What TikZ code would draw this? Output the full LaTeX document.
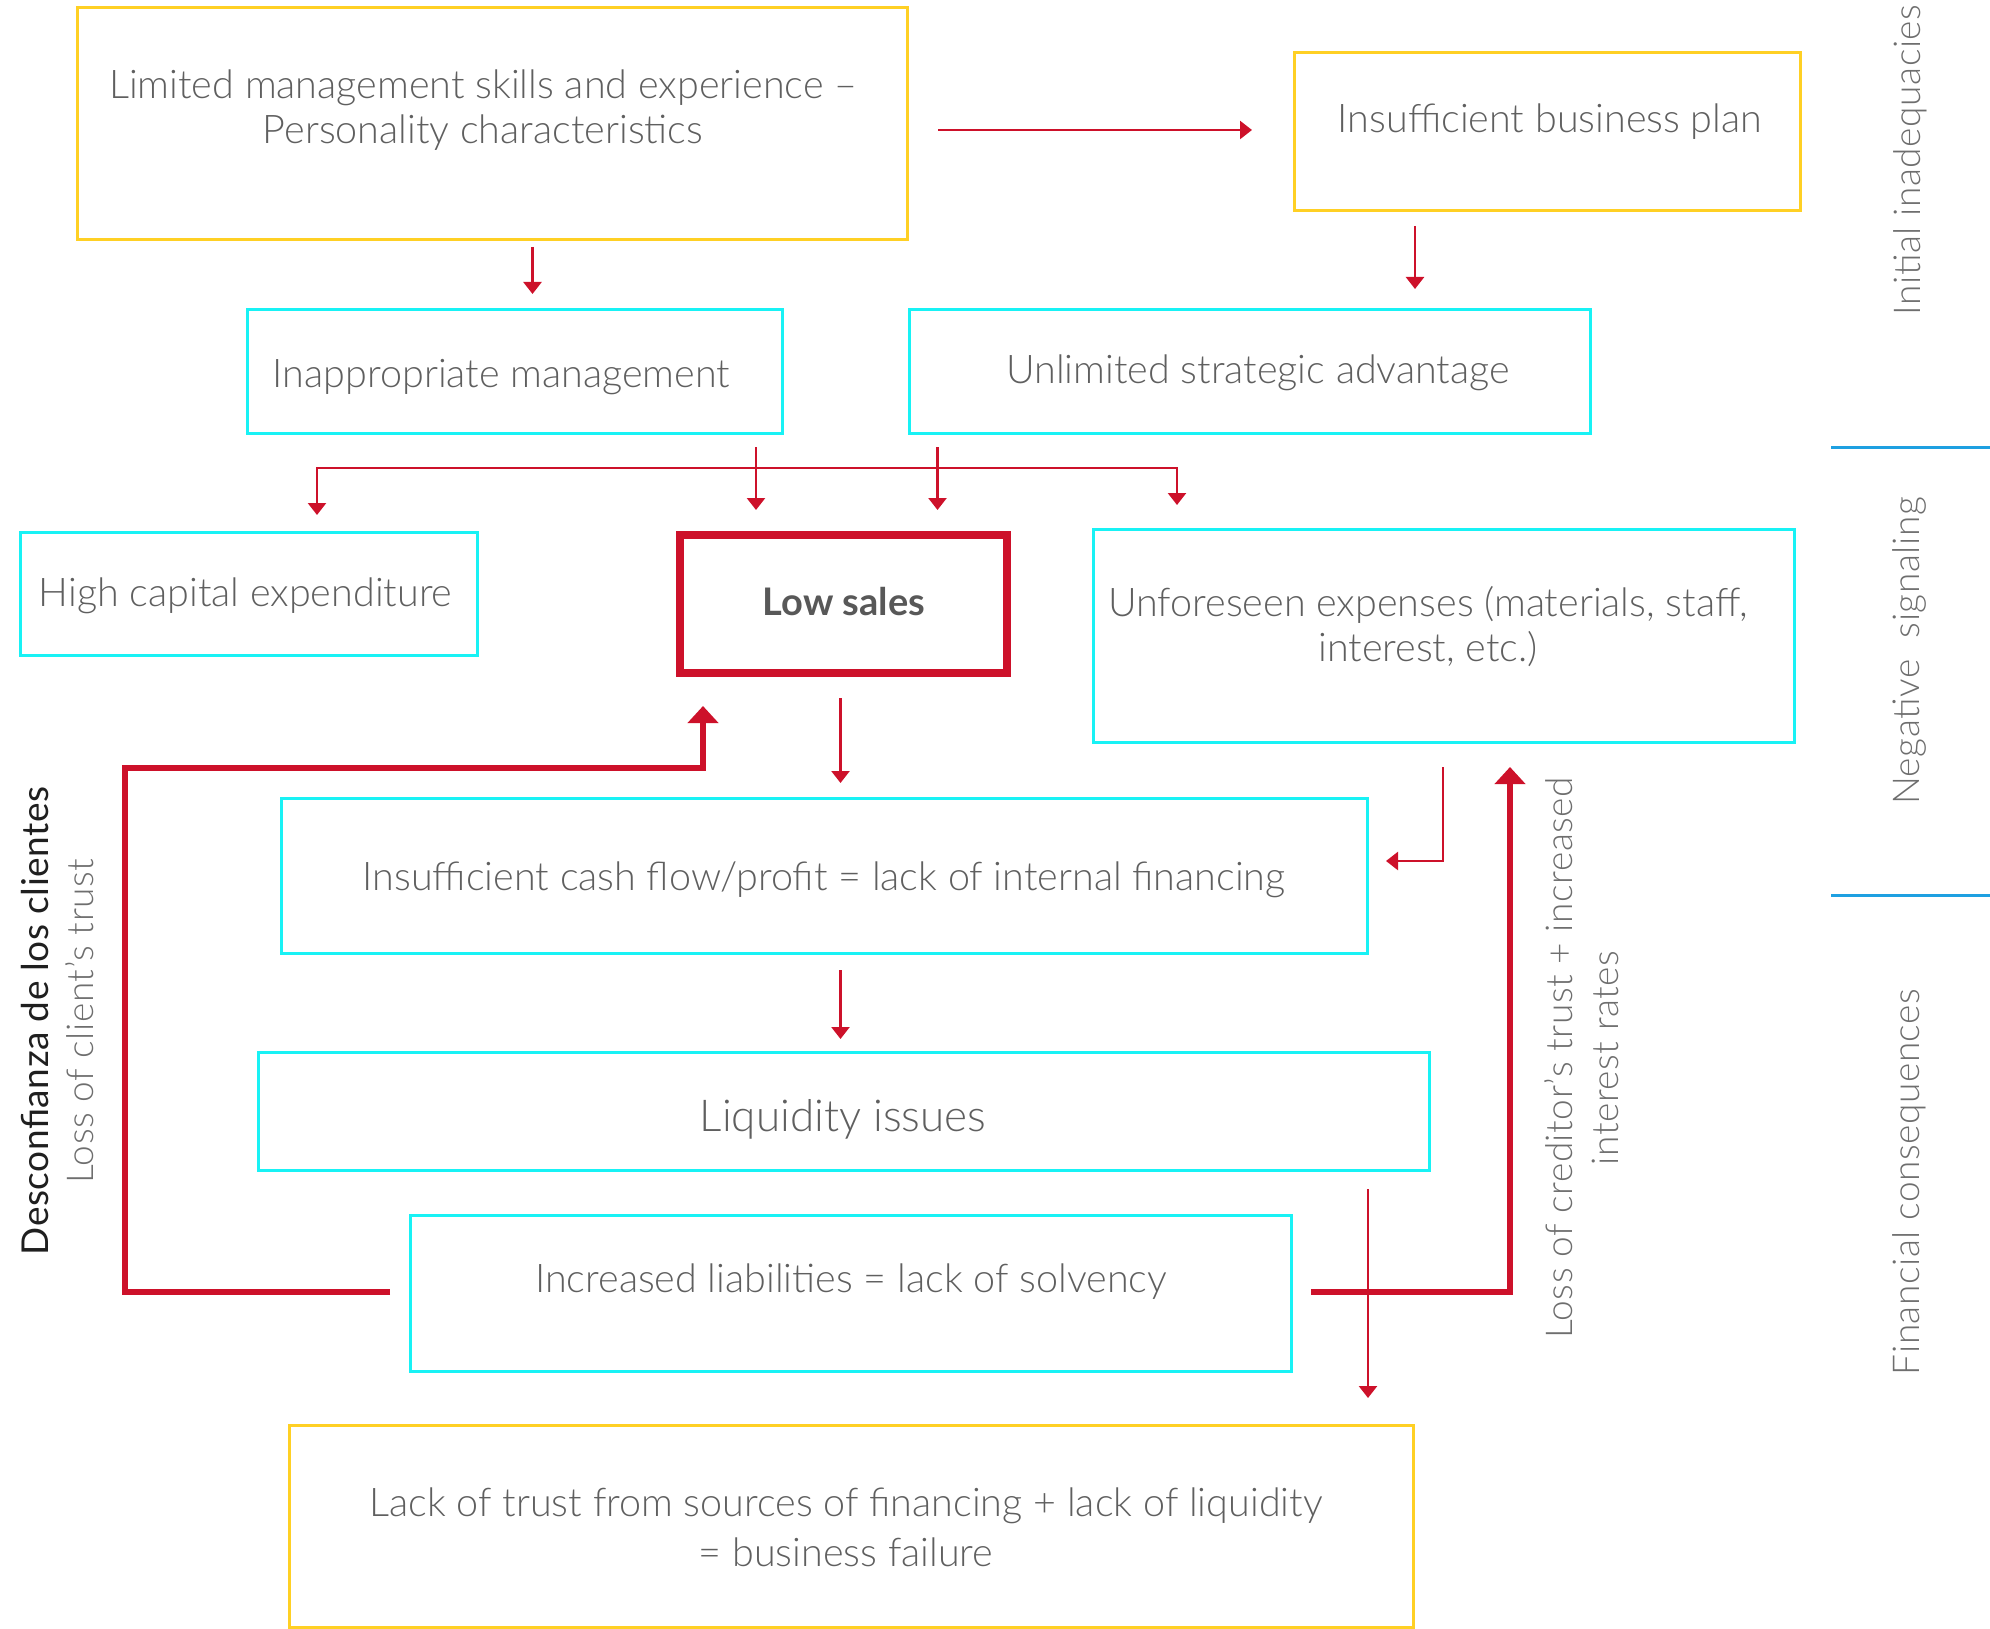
\documentclass[tikz,border=0pt]{standalone}
\usepackage{fontspec}
\setmainfont{Lato Light}[BoldFont={Lato Bold}]
\newfontfamily\sidefont[LetterSpace=1.5]{Lato Light}
\newfontfamily\sideregular[LetterSpace=1.5]{Lato}
\usetikzlibrary{arrows.meta}
\definecolor{boxyellow}{RGB}{255,208,36}
\definecolor{boxcyan}{RGB}{24,242,245}
\definecolor{arrred}{RGB}{205,17,42}
\definecolor{txtgray}{RGB}{95,95,95}
\definecolor{boldgray}{RGB}{88,88,88}
\definecolor{sidegray}{RGB}{110,110,110}
\definecolor{sepblue}{RGB}{30,160,225}
\begin{document}
\begin{tikzpicture}[x=1pt,y=-1pt,
  ybox/.style={draw=boxyellow,line width=3pt,inner sep=0pt,outer sep=0pt},
  cbox/.style={draw=boxcyan,line width=3pt,inner sep=0pt,outer sep=0pt},
  redbox/.style={draw=arrred,line width=8pt,inner sep=0pt,outer sep=0pt},
  txt/.style={text=txtgray,font=\fontsize{39.5}{45}\selectfont,align=center,inner sep=0pt},
  thinarrow/.style={draw=arrred,line width=2.5pt,-{Triangle[length=12pt,width=18pt]}},
  thickarrow/.style={draw=arrred,line width=6pt,-{Triangle[length=17pt,width=30pt]}},
  side/.style={text=sidegray,font=\sidefont\fontsize{37}{46}\selectfont,rotate=90,align=center,inner sep=0pt},
  sep/.style={draw=sepblue,line width=3pt},
]
\useasboundingbox (0,0) rectangle (1990,1629);

% boxes
\node[ybox,minimum width=830pt,minimum height=232pt] (limited) at (492,124) {};
\node[ybox,minimum width=506pt,minimum height=158pt] (plan) at (1547,132) {};
\node[cbox,minimum width=535pt,minimum height=123pt] (inapp) at (514.5,371.5) {};
\node[cbox,minimum width=681pt,minimum height=123pt] (unlim) at (1249.5,371.5) {};
\node[cbox,minimum width=457pt,minimum height=123pt] (highcap) at (248.5,593.5) {};
\node[redbox,minimum width=327pt,minimum height=138pt] (lowsales) at (843.5,604) {};
\node[cbox,minimum width=701pt,minimum height=213pt] (unforeseen) at (1443.5,635.5) {};
\node[cbox,minimum width=1086pt,minimum height=155pt] (cash) at (824,875.5) {};
\node[cbox,minimum width=1171pt,minimum height=118pt] (liquidity) at (843.5,1111) {};
\node[cbox,minimum width=881pt,minimum height=156pt] (liab) at (850.5,1293) {};
\node[ybox,minimum width=1124pt,minimum height=202pt] (failure) at (851,1526.5) {};

% texts
\node[txt] (tlimited) at (483,110) {Limited management skills and experience –\\Personality characteristics};
\node[txt,anchor=base] (tplan) at (1550,133) {Insufficient business plan};
\node[txt,anchor=base] (tinapp) at (501.5,388) {Inappropriate management};
\node[txt,anchor=base] (tunlim) at (1258,384) {Unlimited strategic advantage};
\node[txt,anchor=base] (thighcap) at (245.5,606) {High capital expenditure};
\node[txt,anchor=base,text=boldgray,font=\bfseries\fontsize{38}{45}\selectfont] (tlowsales) at (844,615) {Low sales};
\node[txt] (tunforeseen) at (1428,627) {Unforeseen expenses (materials, staff,\\interest, etc.)};
\node[txt,anchor=base] (tcash) at (824,890) {Insufficient cash flow/profit = lack of internal financing};
\node[txt,anchor=base,font=\fontsize{44}{48}\selectfont] (tliquidity) at (843,1131) {Liquidity issues};
\node[txt,anchor=base] (tliab) at (851,1292) {Increased liabilities = lack of solvency};
\node[txt,font=\fontsize{39.5}{50}\selectfont] (tfailure) at (846,1527) {Lack of trust from sources of financing + lack of liquidity\\= business failure};

% side labels
\node[side] (initial) at (1910,160) {Initial inadequacies};
\node[side] (negative) at (1909,651) {Negative\ \ signaling};
\node[side] (financial) at (1909,1182) {Financial consequences};
\node[side,text=black!88,font=\sideregular\fontsize{37}{46}\selectfont] (desconf) at (35,1021) {Desconfianza de los clientes};
\node[side] (lossclient) at (80,1021) {Loss of client’s trust};
\node[side] (losscred) at (1582,1058) {Loss of creditor’s trust + increased\\interest rates};

% separators
\coordinate (s1a) at (1831,447); \coordinate (s1b) at (1990,447);
\coordinate (s2a) at (1831,895); \coordinate (s2b) at (1990,895);
\draw[sep] (s1a) -- (s1b);
\draw[sep] (s2a) -- (s2b);

% connector coordinates
\coordinate (a1s) at (938,130);   \coordinate (a1e) at (1252,130);
\coordinate (a2s) at (532.5,247); \coordinate (a2e) at (532.5,294);
\coordinate (a3s) at (1415,226);  \coordinate (a3e) at (1415,289);
\coordinate (a4s) at (756,447);   \coordinate (a4e) at (756,510);
\coordinate (a5s) at (937.5,447); \coordinate (a5e) at (937.5,510);
\coordinate (d1) at (317,515); \coordinate (d2) at (317,468);
\coordinate (d3) at (1177,468); \coordinate (d4) at (1177,505);
\coordinate (a6s) at (840.5,698); \coordinate (a6e) at (840.5,783);
\coordinate (u1) at (1443,767); \coordinate (u2) at (1443,861); \coordinate (u3) at (1386,861);
\coordinate (a8s) at (840.5,970); \coordinate (a8e) at (840.5,1039);
\coordinate (a9s) at (1368,1189); \coordinate (a9e) at (1368,1398);
\coordinate (l1) at (390,1292); \coordinate (l2) at (124.5,1292);
\coordinate (l3) at (124.5,768); \coordinate (l4) at (703,768); \coordinate (l5) at (703,706);
\coordinate (r1) at (1311,1292); \coordinate (r2) at (1510,1292); \coordinate (r3) at (1510,767);

% thin arrows
\draw[thinarrow] (a1s) -- (a1e);
\draw[thinarrow] (a2s) -- (a2e);
\draw[thinarrow] (a3s) -- (a3e);
\draw[thinarrow] (a4s) -- (a4e);
\draw[thinarrow] (a5s) -- (a5e);
\draw[thinarrow,{Triangle[length=12pt,width=18pt]}-{Triangle[length=12pt,width=18pt]}] (d1) -- (d2) -- (d3) -- (d4);
\draw[thinarrow] (a6s) -- (a6e);
\draw[thinarrow] (u1) -- (u2) -- (u3);
\draw[thinarrow] (a8s) -- (a8e);

% thick loops
\draw[thickarrow] (l1) -- (l2) -- (l3) -- (l4) -- (l5);
\draw[thickarrow] (r1) -- (r2) -- (r3);
\draw[thinarrow] (a9s) -- (a9e);
\end{tikzpicture}
\end{document}
